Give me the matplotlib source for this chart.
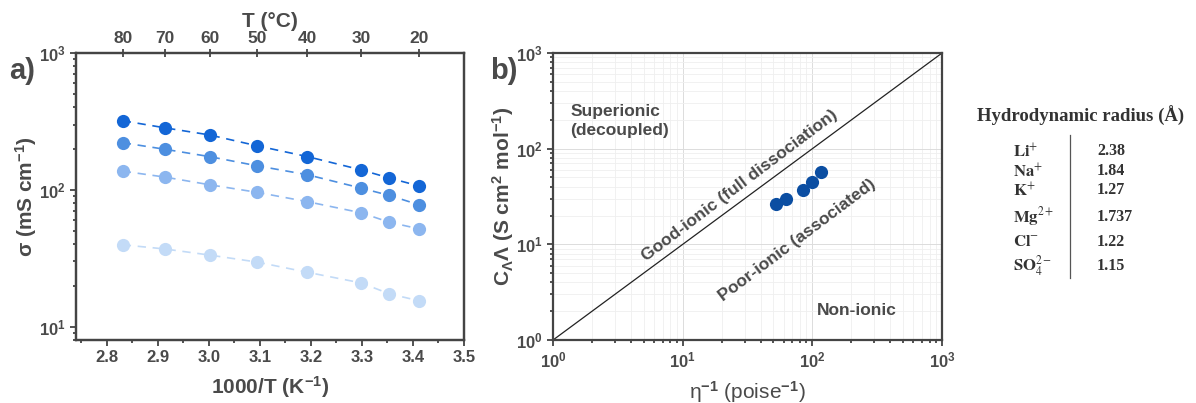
import matplotlib.pyplot as plt
import numpy as np

plt.rcParams['font.family'] = ['Liberation Sans', 'DejaVu Sans']
plt.rcParams['mathtext.fontset'] = 'custom'
plt.rcParams['mathtext.rm'] = 'Liberation Sans:bold'
plt.rcParams['mathtext.it'] = 'Liberation Sans:bold'
plt.rcParams['mathtext.bf'] = 'Liberation Sans:bold'

# panel a: conductivity vs temperature
temps_c = [80, 70, 60, 50, 40, 30, 25, 20]
sigma_1 = [320, 284, 252, 210, 175, 140, 122, 107]
sigma_2 = [221, 198, 175, 150, 129, 103, 91, 78]
sigma_3 = [137, 124, 109, 96, 82, 68, 58, 52]
sigma_4 = [39.7, 37.0, 33.4, 29.7, 25.0, 20.9, 17.4, 15.5]
series_colors = ['#1366d6', '#4d8fe0', '#8cb6ef', '#c3dbf7']
top_ticks = [80, 70, 60, 50, 40, 30, 20]

# panel b: Walden plot
inv_visc = [52, 63, 84, 98.6, 116]
molar_cond = [26.1, 30.1, 37.1, 44.7, 56.4]

# table
ions = [r'$\mathbf{Li}^{+}$', r'$\mathbf{Na}^{+}$', r'$\mathbf{K}^{+}$',
        r'$\mathbf{Mg}^{2+}$', r'$\mathbf{Cl}^{-}$', r'$\mathbf{SO}_4^{2-}$']
radii = ['2.38', '1.84', '1.27', '1.737', '1.22', '1.15']

grey = '#444444'
txt = '#4a4a4a'

fig = plt.figure(figsize=(11.96, 4.03), dpi=100)
ax1 = fig.add_axes([0.0635, 0.1563, 0.3244, 0.7122])
ax2 = fig.add_axes([0.4624, 0.1563, 0.3253, 0.7122])


def inv_t(c):
    return 1000.0 / (np.array(c, dtype=float) + 273.15)


def style_spines(ax):
    for s in ax.spines.values():
        s.set_color(grey)
        s.set_linewidth(1.6)


def bold_ticks(ax):
    for lab in ax.get_xticklabels() + ax.get_yticklabels():
        lab.set_fontweight('bold')


x = inv_t(temps_c)
for vals, col in zip([sigma_4, sigma_3, sigma_2, sigma_1], series_colors[::-1]):
    ax1.plot(x, vals, '--', color=col, lw=1.2, dashes=(5, 4),
             marker='o', ms=9.5, mec='none')
ax1.set_yscale('log')
ax1.set_xlim(2.74, 3.5)
ax1.set_ylim(8, 1000)
ax1.set_xticks(np.arange(2.8, 3.51, 0.1))
ax1.set_xticks(np.arange(2.75, 3.5, 0.1), minor=True)
ax1.set_xticklabels(['%.1f' % v for v in np.arange(2.8, 3.51, 0.1)])
ax1.set_yticks([10, 100, 1000])
ax1.set_yticklabels([r'$10^1$', r'$10^2$', r'$10^3$'])
ax1.tick_params(which='both', direction='out', color=grey, width=1.3,
                labelcolor=txt, labelsize=12)
ax1.tick_params(which='major', length=4)
ax1.tick_params(which='minor', length=2.5)
bold_ticks(ax1)
ax1.set_xlabel(r'1000/T (K$^{-1}$)', fontsize=15, fontweight='bold',
               color=txt, labelpad=6)
ax1.set_ylabel(r'σ (mS cm$^{-1}$)', fontsize=15, fontweight='bold',
               color=txt, labelpad=0)
style_spines(ax1)

top = ax1.twiny()
top.set_xlim(ax1.get_xlim())
top.set_xticks(inv_t(top_ticks))
top.set_xticklabels([str(t) for t in top_ticks], fontweight='bold')
top.tick_params(direction='inout', length=6, color=grey, width=1.3,
                labelcolor=txt, labelsize=12.5, pad=2)
top.set_xlabel('T (°C)', fontsize=15, fontweight='bold', color=txt, labelpad=3)
style_spines(top)

fig.text(0.008, 0.805, 'a)', fontsize=21, fontweight='bold', color=txt)

# panel b
ax2.set_xscale('log')
ax2.set_yscale('log')
ax2.set_xlim(1, 1000)
ax2.set_ylim(1, 1000)
ax2.grid(True, which='major', color='#dcdcdc', lw=0.7)
ax2.grid(True, which='minor', color='#efefef', lw=0.6)
ax2.set_axisbelow(True)
ax2.plot([1, 1000], [1, 1000], color='#222222', lw=0.9)
ax2.plot(inv_visc, molar_cond, 'o', color='#0b4ea2', ms=9.5, mec='none')
ax2.tick_params(which='both', direction='out', color=grey, width=1.3,
                labelcolor=txt, labelsize=12)
ax2.tick_params(which='major', length=4)
ax2.tick_params(which='minor', length=2.5)
fig.canvas.draw()
bold_ticks(ax2)
ax2.set_xlabel(r'η$^{-1}$ (poise$^{-1}$)', fontsize=15, color=txt, labelpad=6)
ax2.set_ylabel(r'C$_{Λ}$Λ (S cm$^{2}$ mol$^{-1}$)',
               fontsize=15, fontweight='bold', color=txt, labelpad=0)
style_spines(ax2)

ax2.text(1.36, 290, 'Superionic\n(decoupled)', fontsize=12.5, fontweight='bold',
         color=txt, ha='left', va='top', linespacing=1.3)
ax2.text(27.5, 41, 'Good-ionic (full dissociation)', fontsize=12.5,
         fontweight='bold', color=txt, rotation=37, ha='center', va='center',
         rotation_mode='anchor')
ax2.text(76, 11, 'Poor-ionic (associated)', fontsize=12.5, fontweight='bold',
         color=txt, rotation=37, ha='center', va='center',
         rotation_mode='anchor')
ax2.text(220, 2.03, 'Non-ionic', fontsize=12.5, fontweight='bold', color=txt,
         ha='center', va='center')

fig.text(0.4095, 0.805, 'b)', fontsize=21, fontweight='bold', color=txt)

# table of hydrodynamic radii
serif = ['Liberation Serif', 'DejaVu Serif']
fig.text(0.9035, 1 - 116 / 403, 'Hydrodynamic radius (Å)', fontsize=13.5,
         fontweight='bold', family=serif, color='#333333', ha='center',
         va='center')
row_y = [151, 171, 190, 217, 242, 266]
for ion, r, yy in zip(ions, radii, row_y):
    fig.text(1013 / 1196, 1 - yy / 403, ion, fontsize=12,
             color='#333333', ha='left', va='center',
             math_fontfamily='stix')
    fig.text(1097 / 1196, 1 - yy / 403, r, fontsize=11.5, fontweight='bold',
             family=serif, color='#333333', ha='left', va='center')
fig.add_artist(plt.Line2D([1070 / 1196, 1070 / 1196],
                          [1 - 135 / 403, 1 - 278 / 403],
                          color='#555555', lw=0.9))

fig.savefig('out.png', dpi=100)
